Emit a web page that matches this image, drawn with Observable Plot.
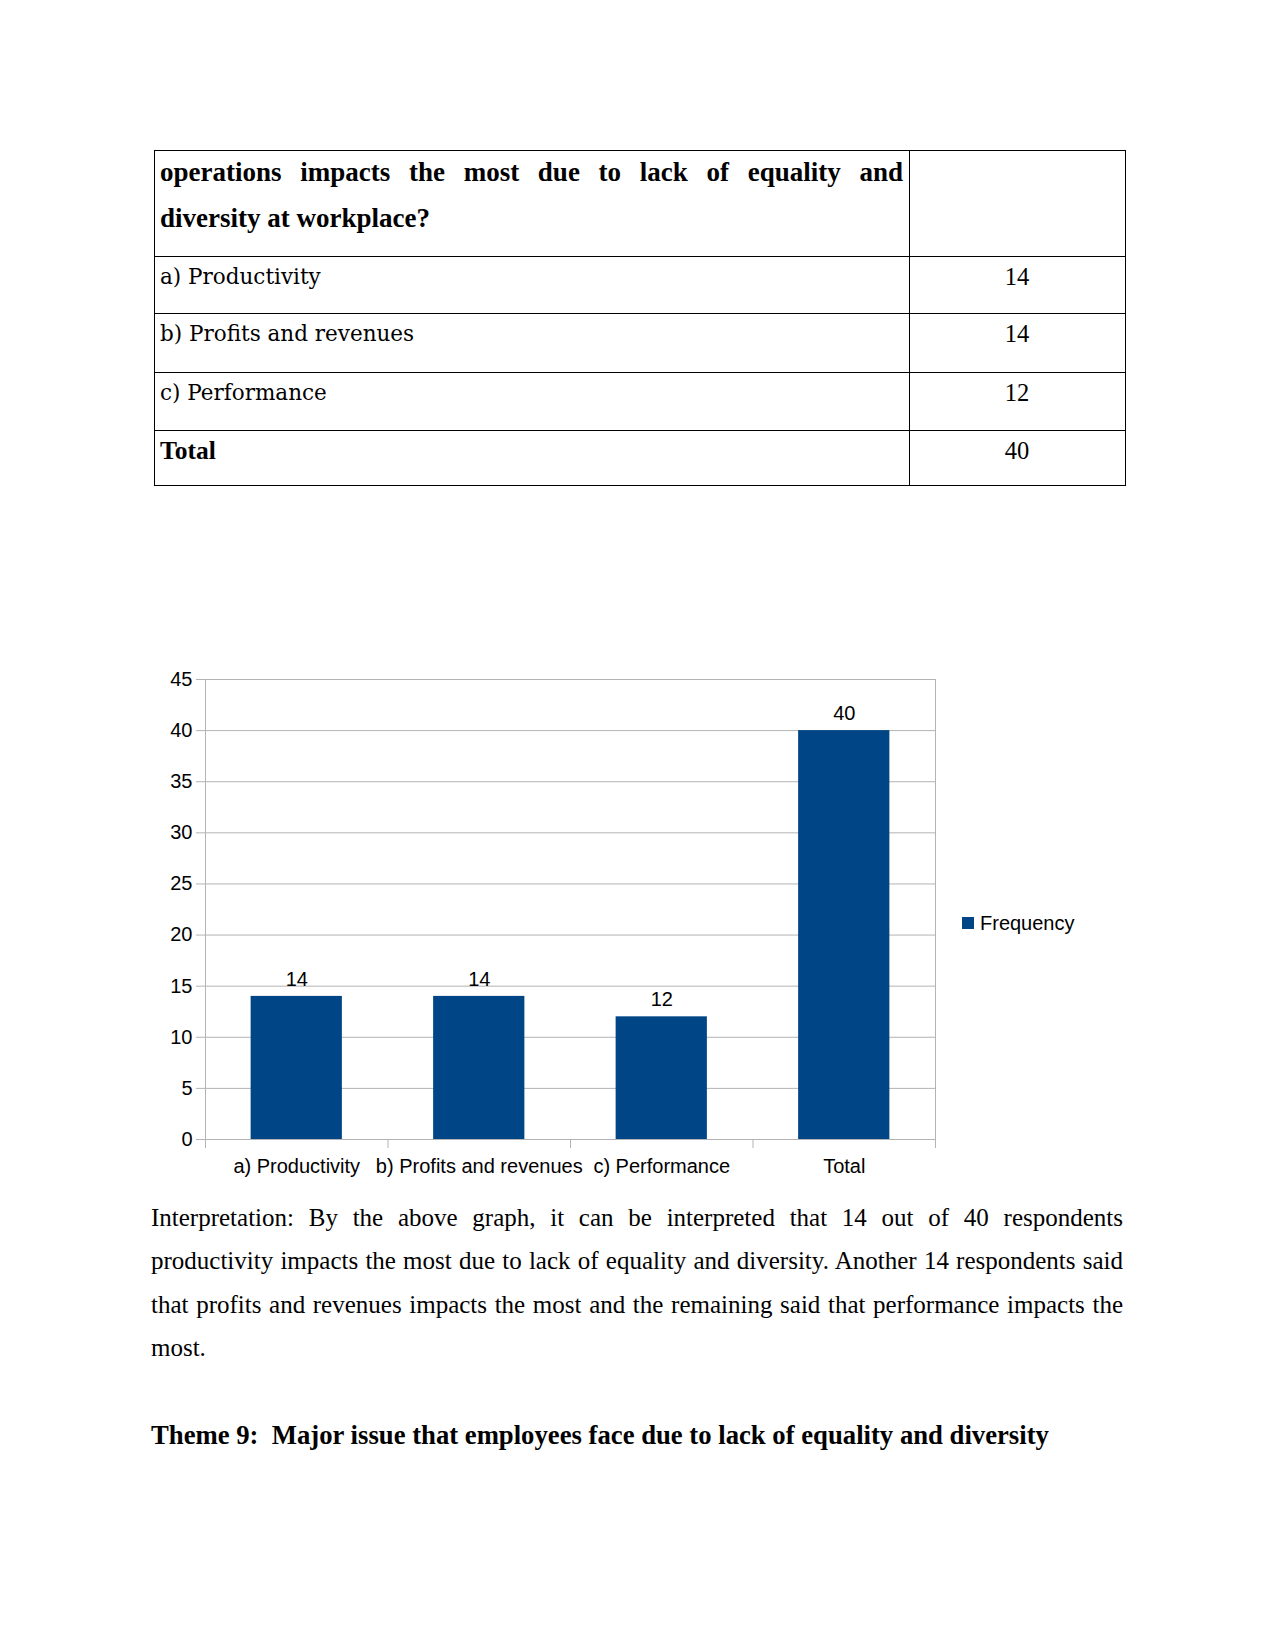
<!DOCTYPE html>
<html>
<head>
<meta charset="utf-8">
<script src="https://cdn.jsdelivr.net/npm/d3@7"></script>
<script src="https://cdn.jsdelivr.net/npm/@observablehq/plot@0.6"></script>
<style>
  html, body { margin: 0; padding: 0; background: #fff; }
  #page { position: relative; width: 1275px; height: 1651px; background: #fff; overflow: hidden; }
  .serif { font-family: "Liberation Serif", "Times New Roman", serif; color: #000; }
  .abs { position: absolute; }
  .hline { position: absolute; height: 0; border-top: 1px solid #000; }
  .vline { position: absolute; width: 0; border-left: 1px solid #000; }
  .just { text-align: justify; text-align-last: justify; white-space: nowrap; }
  #chart { position: absolute; left: 0; top: 640px; }
  #legend { position: absolute; left: 962px; top: 911px; font-family: "Liberation Sans", Arial, sans-serif; font-size: 20px; color: #000; display: flex; align-items: center; height: 24px; }
  #legend .sw { width: 12px; height: 12px; background: #004586; margin-right: 6px; }
</style>
</head>
<body>
<div id="page">
  <div id="table"></div>
  <div id="chart"></div>
  <div id="legend"></div>
  <div id="text"></div>
</div>
<script>
// ---- Data ----
const questionLines = ["operations impacts the most due to lack of equality and", "diversity at workplace?"];
const categories = ["a) Productivity", "b) Profits and revenues", "c) Performance", "Total"];
const frequency = [14, 14, 12, 40];
const seriesName = "Frequency";
const yTicks = [0, 5, 10, 15, 20, 25, 30, 35, 40, 45];
const paragraphLines = [
  "Interpretation: By the above graph, it can be interpreted that 14 out of 40 respondents",
  "productivity impacts the most due to lack of equality and diversity. Another 14 respondents said",
  "that profits and revenues impacts the most and the remaining said that performance impacts the",
  "most."
];
const heading = "Theme 9:\u00a0 Major issue that employees face due to lack of equality and diversity";

// ---- Table ----
const table = document.getElementById("table");
const tLeft = 154, tRight = 1125, tDiv = 909;
const rowEdges = [150, 256, 313, 372, 430, 485];
function add(parent, cls, style, text) {
  const el = document.createElement("div");
  el.className = cls;
  Object.assign(el.style, style);
  if (text != null) el.textContent = text;
  parent.appendChild(el);
  return el;
}
rowEdges.forEach(y => add(table, "hline", {left: tLeft + "px", top: y + "px", width: (tRight - tLeft + 1) + "px"}));
[tLeft, tDiv, tRight].forEach(x => add(table, "vline", {left: x + "px", top: rowEdges[0] + "px", height: (rowEdges[rowEdges.length - 1] - rowEdges[0]) + "px"}));
// header
questionLines.forEach((line, i) => {
  add(table, "abs serif" + (i === 0 ? " just" : ""), {
    left: "160px", top: (150 + i * 45.5) + "px", width: "743px",
    fontWeight: "bold", fontSize: "27px", lineHeight: "45px", whiteSpace: "nowrap"
  }, line);
});
// rows
const rowLabels = categories.map((c, i) => ({label: c, value: frequency[i], bold: c === "Total"}));
rowLabels.forEach((r, i) => {
  const top = rowEdges[i + 1] - 1;
  add(table, "abs", {
    left: "160px", top: top + "px", lineHeight: "43px",
    fontFamily: r.bold ? '"Liberation Serif", serif' : '"DejaVu Serif", serif',
    fontSize: r.bold ? "25.5px" : "21.5px", fontWeight: r.bold ? "bold" : "normal", color: "#000", whiteSpace: "nowrap"
  }, r.label);
  add(table, "abs", {
    left: tDiv + "px", width: (tRight - tDiv) + "px", top: top + "px", lineHeight: "43px", textAlign: "center",
    fontFamily: '"Liberation Serif", serif', fontSize: "24.5px", color: "#000"
  }, String(r.value));
});

// ---- Chart ----
const data = categories.map((c, i) => ({i, category: c, value: frequency[i]}));
const chart = Plot.plot({
  width: 1275,
  height: 560,
  marginLeft: 205,
  marginRight: 340,
  marginTop: 39,
  marginBottom: 61,
  x: {domain: [0, categories.length], axis: null},
  y: {domain: [0, 45], axis: null},
  style: {fontFamily: '"Liberation Sans", Arial, sans-serif', fontSize: "20px", color: "#000", background: "transparent", overflow: "visible"},
  marks: [
    Plot.ruleY(yTicks, {stroke: "#b3b3b3", strokeWidth: 1}),
    Plot.ruleX([0, categories.length], {stroke: "#b3b3b3", strokeWidth: 1}),
    Plot.axisY({ticks: yTicks, tickSize: 9, tickPadding: 4, stroke: "#b3b3b3", fill: "#000", fontSize: 20, label: null}),
    Plot.axisX({ticks: d3.range(categories.length + 1), tickSize: 9, tickFormat: () => "", stroke: "#b3b3b3", label: null}),
    Plot.rectY(data, {x1: d => d.i + 0.25, x2: d => d.i + 0.75, y1: 0, y2: "value", fill: "#004586"}),
    Plot.text(data, {x: d => d.i + 0.5, y: "value", text: d => String(d.value), lineAnchor: "bottom", dy: -10.5, fill: "#000", fontSize: 20}),
    Plot.axisX({ticks: data.map(d => d.i + 0.5), tickFormat: t => categories[Math.floor(t)], tickSize: 0, tickPadding: 19, fill: "#000", fontSize: 20, label: null})
  ]
});
document.getElementById("chart").appendChild(chart);

// legend
const legend = document.getElementById("legend");
add(legend, "sw", {});
const lt = document.createElement("span"); lt.textContent = seriesName; legend.appendChild(lt);

// ---- Text below ----
const text = document.getElementById("text");
paragraphLines.forEach((line, i) => {
  const last = i === paragraphLines.length - 1;
  add(text, "abs serif" + (last ? "" : " just"), {
    left: "151px", top: (1196 + i * 43.3) + "px", width: "972px",
    fontSize: "25px", lineHeight: "43.3px", whiteSpace: "nowrap"
  }, line);
});
add(text, "abs serif", {left: "151px", top: "1414px", fontSize: "26.7px", fontWeight: "bold", lineHeight: "43.3px", whiteSpace: "nowrap"}, heading);
</script>
</body>
</html>
